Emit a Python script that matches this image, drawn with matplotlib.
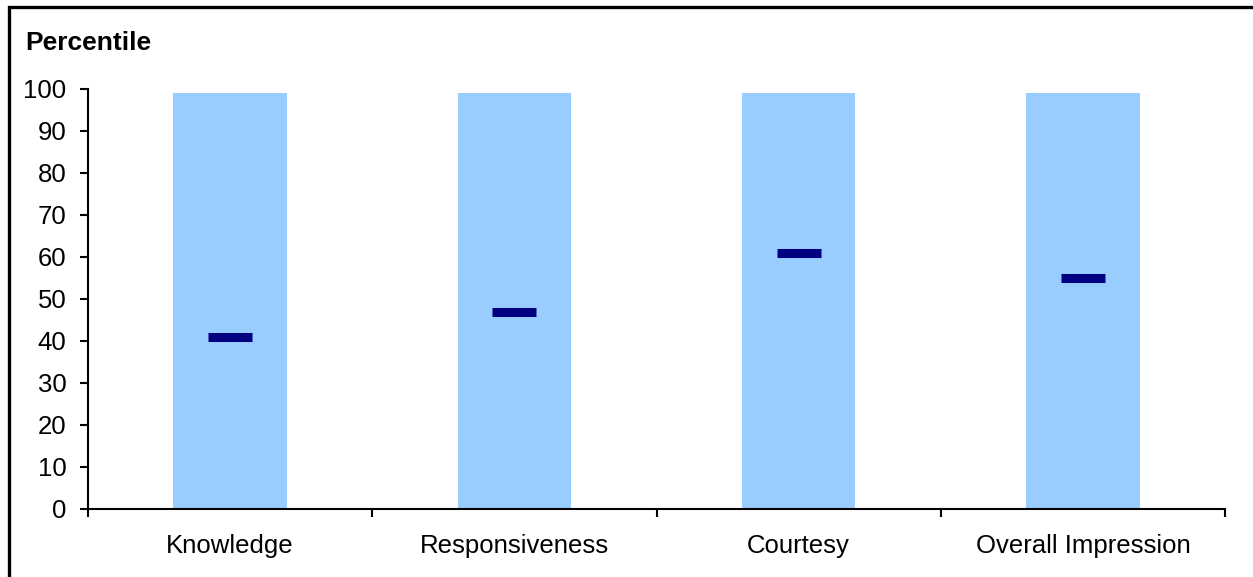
import matplotlib
matplotlib.use("Agg")
import matplotlib.pyplot as plt
from matplotlib.patches import Rectangle
import numpy as np

plt.rcParams["font.family"] = ["Liberation Sans", "DejaVu Sans"]

categories = ["Knowledge", "Responsiveness", "Courtesy", "Overall Impression"]
range_top = [99, 99, 99, 99]
scores = [41, 47, 61, 55]

W, H = 1253, 577
fig = plt.figure(figsize=(W / 100, H / 100), dpi=100)
ax = fig.add_axes([88 / W, 1 - 509 / H, (1225 - 88) / W, (509 - 89) / H])

x = np.arange(len(categories))
ax.bar(x, range_top, width=0.4, color="#99CCFF", zorder=1)
ax.plot(x, scores, ls="none", marker="_", ms=31, mew=6.5, color="#000080",
        zorder=3)

ax.set_xlim(-0.5, len(categories) - 0.5)
ax.set_ylim(0, 100)
ax.set_yticks(np.arange(0, 101, 10))
ax.set_xticks(np.arange(-0.5, len(categories), 1.0))
ax.set_xticklabels([])
ax.set_xticks(x, minor=True)
ax.set_xticklabels(categories, minor=True)
ax.tick_params(axis="x", which="major", direction="out", length=6, width=1.5)
ax.tick_params(axis="x", which="minor", length=0, pad=18, labelsize=18.5)
ax.tick_params(axis="y", direction="out", length=6, width=1.5, pad=9.5, labelsize=18.5)
for s in ["top", "right"]:
    ax.spines[s].set_visible(False)
for s in ["left", "bottom"]:
    ax.spines[s].set_linewidth(1.5)

fig.text(25 / W, 1 - 43 / H, "Percentile", fontsize=19, fontweight="bold",
         ha="left", va="center")

fig.patches.append(Rectangle((9 / W, -0.1), 1.2, 1 - 6.5 / H + 0.1,
                             transform=fig.transFigure, fill=False,
                             edgecolor="black", lw=2.4))

fig.savefig("out.png", dpi=100)
